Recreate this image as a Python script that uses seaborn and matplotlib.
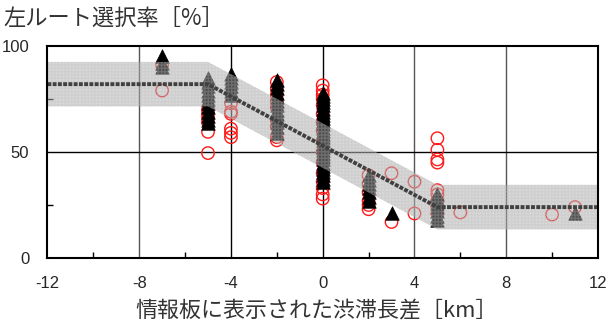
import matplotlib
matplotlib.use("Agg")
import matplotlib.pyplot as plt
import numpy as np
import pandas as pd
import seaborn as sns

# Observed left-route choice rate (red open circles)
obs_x = [-7, -7,
         -5, -5, -5, -5, -5, -5,
         -4, -4, -4, -4, -4, -4,
         -2, -2, -2, -2, -2, -2, -2, -2, -2,
         0, 0, 0, 0, 0, 0, 0, 0, 0, 0, 0, 0, 0, 0, 0, 0,
         2, 2, 2, 2, 2, 2,
         3, 3,
         4, 4,
         5, 5, 5, 5, 5, 5, 5, 5, 5,
         6, 10, 11]
obs_y = [91, 79,
         70, 68, 66, 64, 59.5, 49.5,
         73, 69, 68, 61, 59, 57,
         83, 80, 77, 74, 71, 65, 62, 57, 55.5,
         81.5, 79, 77, 75, 72, 68, 64, 60, 55, 50, 45, 40, 36, 33, 30, 28,
         39, 35, 31, 27, 25, 23,
         40, 17,
         36, 21,
         56.5, 51, 46.5, 45, 32, 30, 27, 24, 21,
         21.5, 20.5, 24]

# Model estimates (black triangles)
est_x = [-7, -7, -7,
         -5, -5, -5, -5, -5, -5, -5, -5, -5, -5, -5, -5,
         -4, -4, -4, -4, -4, -4,
         -2, -2, -2, -2, -2, -2, -2, -2, -2, -2, -2, -2, -2,
         0, 0, 0, 0, 0, 0, 0, 0, 0, 0, 0, 0, 0, 0, 0, 0, 0, 0, 0, 0, 0, 0, 0, 0, 0, 0, 0, 0, 0,
         2, 2, 2, 2, 2, 2, 2,
         3,
         5, 5, 5, 5, 5, 5, 5,
         11]
est_y = [95.5, 92, 90,
         85, 83, 81, 79, 77, 75, 73, 71, 69, 67, 65, 63.5,
         87, 85, 83, 81, 79, 77,
         84, 82, 80, 78, 76, 74, 72, 70, 68, 66, 64, 62, 59,
         78, 76.5, 75, 73.5, 72, 70.5, 69, 67.5, 66, 64.5, 63, 61.5, 60, 58.5, 57,
         55.5, 54, 52.5, 51, 49.5, 48, 46.5, 45, 43.5, 42, 40.5, 39, 37.5, 36,
         39, 37, 35, 33, 31, 29, 27,
         21,
         30, 28, 26, 24, 22, 20, 18,
         21]

# Piecewise regression line and its band
trend_x = [-12, -5, 5, 12]
trend_y = [82, 82, 24, 24]
band_half = 10.5

x_ticks = [-12, -8, -4, 0, 4, 8, 12]
y_ticks = [0, 50, 100]

sns.set_style("white")
plt.rcParams["font.family"] = ["Noto Sans CJK JP", "DejaVu Sans"]

fig = plt.figure(figsize=(6.08, 3.24), dpi=100)
ax = fig.add_axes([0.078, 0.2037, 0.9055, 0.6543])

obs = pd.DataFrame({"x": obs_x, "y": obs_y})
est = pd.DataFrame({"x": est_x, "y": est_y})

sns.scatterplot(data=obs, x="x", y="y", ax=ax, marker="o", s=80,
                facecolor="none", edgecolor="#ff1a1a", linewidth=1.0, zorder=3)
sns.scatterplot(data=est, x="x", y="y", ax=ax, marker="^", s=95,
                color="black", edgecolor="black", linewidth=0.5, zorder=4)

tx = np.array(trend_x, dtype=float)
ty = np.array(trend_y, dtype=float)
ax.fill_between(tx, ty - band_half, ty + band_half, facecolor="#acacac",
                alpha=0.45, edgecolor="none", zorder=5)
ax.fill_between(tx, ty - band_half, ty + band_half, facecolor="none",
                hatch="+++++", edgecolor="#b8b8b8", linewidth=0, alpha=0.3, zorder=5)
ax.plot(tx, ty, color="#404040", linewidth=2.8, linestyle=(0, (1, 0.35)),
        zorder=6, solid_capstyle="butt")

ax.set_xlim(-12, 12)
ax.set_ylim(0, 100)
ax.set_xticks(x_ticks)
ax.set_yticks(y_ticks)
ax.set_xticks([-10, -6, -2, 2, 6, 10], minor=True)
ax.set_yticks([25, 75], minor=True)
ax.set_xticklabels([str(v) for v in x_ticks])
ax.set_yticklabels([str(v) for v in y_ticks])

tick_font = ["Liberation Sans Narrow", "Liberation Sans", "DejaVu Sans"]
for lab in ax.get_xticklabels() + ax.get_yticklabels():
    lab.set_family(tick_font)
    lab.set_fontsize(12)

ax.tick_params(axis="x", which="major", direction="in", length=0, pad=13)
ax.tick_params(axis="y", which="major", direction="in", length=0, pad=13)
ax.tick_params(which="minor", direction="in", length=4, width=1, color="black")
ax.tick_params(axis="x", which="minor", bottom=True)
ax.tick_params(axis="y", which="minor", left=True)

for v in [-8, -4, 0, 4, 8]:
    ax.axvline(v, color="black" if v in (-4, 0) else "#555555", linewidth=1.0, zorder=1)
ax.axhline(50, color="black", linewidth=1.0, zorder=1)

for sp in ax.spines.values():
    sp.set_color("black")
    sp.set_linewidth(1.5)
    sp.set_zorder(7)

ax.set_xlabel("")
ax.set_ylabel("")

fig.text(0.005, 0.945, "左ルート選択率［%］", fontsize=16, ha="left", va="center",
         color="#333333")
fig.text(0.52, 0.04, "情報板に表示された渋滞長差［km］", fontsize=15.8, ha="center",
         va="center", color="#333333")

fig.savefig("out.png", dpi=100)
